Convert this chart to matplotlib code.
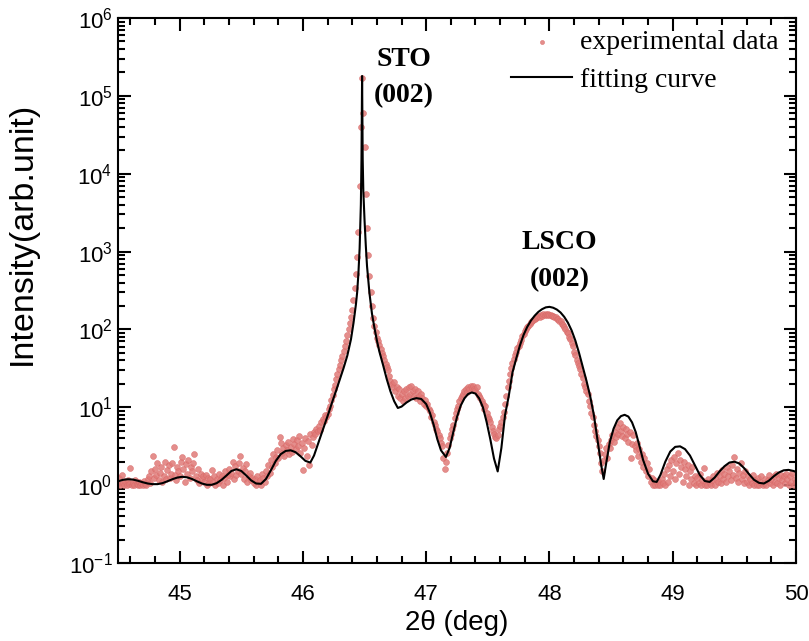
#!/usr/bin/env python3
"""XRD theta-2theta scan of an LSCO film on STO(001): measured points and fit."""
import matplotlib
matplotlib.use("Agg")
import matplotlib.pyplot as plt
import numpy as np
from matplotlib.ticker import LogLocator, MultipleLocator, NullFormatter

# measured scan, 2theta from 44.50 to 50.00 deg in 0.01 deg steps (one row = 0.1 deg)
SCAN_START = 44.50
SCAN_END = 50.00
SCAN_Y = [
    1.02, 1.25, 1.0, 1.35, 1.05, 1.0, 1.12, 1.0, 1.18, 1.04,        # 44.5
    1.65, 1.0, 1.08, 1.0, 1.15, 1.02, 1.0, 1.1, 1.0, 1.06,          # 44.6
    1.0, 1.12, 1.04, 1.0, 1.2, 1.3, 1.08, 1.5, 2.4, 1.25,           # 44.7
    1.6, 1.35, 1.9, 1.15, 1.45, 1.7, 1.1, 1.3, 2.0, 1.2,            # 44.8
    1.55, 1.8, 1.25, 1.4, 1.95, 3.1, 1.35, 1.15, 1.7, 1.5,          # 44.9
    1.3, 2.0, 2.3, 1.6, 1.1, 1.85, 1.4, 2.1, 1.25, 1.7,             # 45.0
    1.5, 1.9, 2.5, 1.3, 1.15, 1.6, 1.05, 1.4, 1.2, 1.3,             # 45.1
    1.1, 1.35, 1.0, 1.25, 1.05, 1.2, 1.55, 1.1, 1.3, 1.0,           # 45.2
    1.2, 1.05, 1.4, 1.15, 1.3, 1.0, 1.25, 1.5, 1.1, 1.35,           # 45.3
    1.6, 1.3, 1.45, 2.0, 1.2, 1.75, 1.35, 1.5, 1.9, 2.4,            # 45.4
    1.4, 1.65, 1.2, 1.5, 1.85, 1.1, 1.3, 1.45, 1.15, 1.25,          # 45.5
    1.05, 1.2, 1.0, 1.3, 1.1, 1.15, 1.0, 1.4, 1.25, 1.1,            # 45.6
    1.5, 1.3, 1.8, 1.45, 2.1, 1.7, 2.5, 1.9, 2.3, 2.8,              # 45.7
    2.2, 4.2, 3.5, 2.6, 3.0, 2.4, 3.3, 2.8, 3.6, 2.5,               # 45.8
    3.1, 2.7, 3.9, 3.4, 2.9, 3.8, 3.2, 4.3, 2.6, 3.5,               # 45.9
    1.55, 3.0, 4.0, 2.4, 3.7, 1.8, 4.6, 3.3, 4.2, 4.8,              # 46.0
    4.5, 5.3, 5.0, 5.8, 5.1, 6.4, 7.0, 6.6, 8.0, 7.5,               # 46.1
    8.2, 9.4, 10.5, 12.5, 14.5, 17, 19.5, 23, 27, 31,               # 46.2
    35, 40, 46, 53, 62, 72, 84, 100, 120, 145,                      # 46.3
    180, 240, 340, 520, 850, 1800, 7000, 40000, 170000, 60000,      # 46.4
    22000, 5500, 2000, 900, 480, 300, 200, 140, 110, 92,            # 46.5
    78, 70, 64, 56, 50, 45, 40, 36, 33, 30,                         # 46.6
    25, 22, 20, 18, 21, 16, 18, 14, 17, 13,                         # 46.7
    15, 12, 16, 13, 17, 14, 18, 15, 19, 16,                         # 46.8
    14, 17, 13, 16, 14, 12, 15, 13, 11, 12.5,                       # 46.9
    10.5, 11, 9.5, 9, 7.5, 8, 6.5, 6, 5.2, 5,                       # 47.0
    4.4, 4.0, 3.5, 3.2, 2.2, 1.6, 2.0, 2.6, 3.3, 4.0,               # 47.1
    4.6, 5.3, 6.0, 7.2, 8.5, 9.5, 10.5, 12, 13, 14,                 # 47.2
    15, 16, 17, 15.5, 18, 17, 19, 17.5, 18.5, 17,                   # 47.3
    16.5, 18, 15, 14, 13, 12, 11, 9.5, 10.5, 8.5,                   # 47.4
    7.5, 7.0, 6.5, 5.5, 5.0, 4.5, 4.2, 4.0, 4.4, 5.2,               # 47.5
    5.8, 6.5, 7.5, 8.8, 11, 14, 18, 22, 27, 32,                     # 47.6
    37, 42, 47, 52, 57, 62, 67, 74, 82, 88,                         # 47.7
    95, 101, 107, 112, 118, 124, 129, 134, 138, 141,                # 47.8
    144, 150, 146, 154, 150, 158, 152, 160, 154, 157,               # 47.9
    152, 155, 148, 150, 143, 144, 136, 137, 128, 127,               # 48.0
    119, 115, 106, 102, 93, 89, 80, 75, 66, 61,                     # 48.1
    52, 47, 41, 37, 34, 31, 27, 24, 20, 18,                         # 48.2
    16, 15, 12, 10.5, 8.5, 7.5, 6, 5, 4.3, 3.8,                     # 48.3
    3.2, 2.6, 1.9, 1.5, 2.1, 2.5, 3.0, 2.2, 3.4, 3.0,               # 48.4
    3.8, 4.4, 3.6, 4.8, 4.1, 5.5, 4.6, 6.2, 5.0, 4.3,               # 48.5
    5.6, 4.0, 5.3, 4.5, 3.6, 4.8, 2.2, 3.4, 4.4, 3.2,               # 48.6
    2.8, 3.5, 2.4, 2.9, 2.0, 2.5, 1.7, 2.2, 1.5, 1.9,               # 48.7
    1.3, 1.6, 1.1, 1.25, 1.0, 1.15, 1.0, 1.05, 1.0, 1.1,            # 48.8
    1.0, 1.2, 1.05, 1.4, 1.0, 1.6, 1.1, 1.8, 1.3, 2.1,              # 48.9
    1.5, 2.3, 1.2, 1.9, 2.6, 1.4, 2.1, 1.7, 1.1, 2.0,               # 49.0
    1.6, 1.3, 1.8, 1.0, 1.5, 1.2, 1.7, 1.05, 1.3, 1.0,              # 49.1
    1.25, 1.05, 1.4, 1.0, 1.15, 1.65, 1.0, 1.1, 1.0, 1.2,           # 49.2
    1.05, 1.0, 1.15, 1.3, 1.0, 1.2, 1.45, 1.1, 1.3, 1.05,           # 49.3
    1.55, 1.2, 1.4, 1.1, 1.7, 1.3, 1.5, 1.15, 1.8, 1.35,            # 49.4
    2.3, 1.25, 1.6, 1.1, 1.45, 1.9, 1.2, 1.35, 1.05, 1.5,           # 49.5
    1.1, 1.3, 1.0, 1.2, 1.05, 1.35, 1.0, 1.15, 1.0, 1.25,           # 49.6
    1.0, 1.1, 1.3, 1.0, 1.05, 1.2, 1.0, 1.15, 1.35, 1.05,           # 49.7
    1.2, 1.0, 1.3, 1.1, 1.4, 1.05, 1.25, 1.0, 1.35, 1.15,           # 49.8
    1.3, 1.05, 1.4, 1.2, 1.0, 1.3, 1.1, 1.45, 1.0, 1.2,             # 49.9
    1.1,                                                            # 50.0
]

# fitted curve
FIT_X = [
    44.50, 44.54, 44.58, 44.62, 44.66, 44.70, 44.74, 44.78, 44.82, 44.86,
    44.90, 44.94, 44.98, 45.02, 45.06, 45.10, 45.14, 45.18, 45.22, 45.26,
    45.30, 45.34, 45.38, 45.42, 45.46, 45.50, 45.54, 45.58, 45.62, 45.66,
    45.70, 45.74, 45.78, 45.82, 45.86, 45.90, 45.94, 45.98, 46.02, 46.06,
    46.09, 46.12, 46.15, 46.18, 46.21, 46.24, 46.27, 46.30, 46.33, 46.36,
    46.39, 46.41, 46.43, 46.44, 46.45, 46.46, 46.47, 46.475, 46.48, 46.485,
    46.49, 46.50, 46.51, 46.52, 46.54, 46.56, 46.58, 46.60, 46.62, 46.65,
    46.68, 46.71, 46.74, 46.77, 46.80, 46.84, 46.88, 46.92, 46.96, 47.00,
    47.03, 47.06, 47.09, 47.12, 47.16, 47.19, 47.22, 47.25, 47.28, 47.31,
    47.34, 47.37, 47.40, 47.43, 47.46, 47.49, 47.52, 47.55, 47.58, 47.61,
    47.64, 47.67, 47.70, 47.73, 47.76, 47.79, 47.82, 47.85, 47.88, 47.91,
    47.94, 47.97, 48.00, 48.03, 48.06, 48.09, 48.12, 48.15, 48.18, 48.21,
    48.24, 48.27, 48.30, 48.33, 48.36, 48.39, 48.42, 48.44, 48.46, 48.49,
    48.52, 48.55, 48.58, 48.61, 48.64, 48.67, 48.70, 48.73, 48.76, 48.80,
    48.84, 48.87, 48.90, 48.94, 48.98, 49.02, 49.06, 49.10, 49.14, 49.18,
    49.22, 49.26, 49.30, 49.34, 49.38, 49.42, 49.46, 49.50, 49.54, 49.58,
    49.62, 49.66, 49.70, 49.74, 49.78, 49.82, 49.86, 49.90, 49.94, 49.98,
    50.00,
]
FIT_Y = [
    1.12, 1.17, 1.19, 1.18, 1.14, 1.09, 1.05, 1.03, 1.03, 1.06,
    1.12, 1.19, 1.25, 1.28, 1.26, 1.2, 1.12, 1.05, 1.01, 1.01,
    1.06, 1.17, 1.33, 1.52, 1.6, 1.52, 1.33, 1.15, 1.05, 1.04,
    1.2, 1.55, 2.05, 2.5, 2.75, 2.8, 2.65, 2.35, 2.05, 1.95,
    2.4, 3.3, 4.5, 6.2, 8.6, 12, 16.5, 23, 32, 46,
    75, 120, 210, 300, 520, 1100, 4000, 15000, 180000, 15000,
    6000, 2500, 1200, 650, 290, 160, 105, 72, 52, 35,
    23, 16, 12, 9.8, 10.2, 11.5, 12.6, 13.1, 12.8, 11,
    8.5, 6, 3.9, 2.8, 2.3, 3.0, 4.8, 7.5, 10.5, 13,
    14.8, 15.5, 15, 13, 10, 6.5, 3.9, 2.2, 1.5, 3.0,
    8, 14, 28, 42, 62, 85, 108, 130, 150, 168,
    182, 192, 195, 190, 180, 165, 145, 122, 97, 72,
    50, 33, 22, 14, 8, 3.8, 1.8, 1.2, 1.9, 3.6,
    5.3, 6.8, 7.7, 8, 7.6, 6.4, 4.8, 3.2, 2.1, 1.4,
    1.12, 1.1, 1.35, 2.0, 2.7, 3.1, 3.15, 2.9, 2.4, 1.8,
    1.35, 1.13, 1.1, 1.25, 1.5, 1.75, 1.95, 2.0, 1.9, 1.65,
    1.38, 1.17, 1.07, 1.05, 1.14, 1.3, 1.45, 1.55, 1.57, 1.52,
    1.48,
]

# peak labels: (text, 2theta, intensity)
PEAK_LABELS = [
    ("STO", 46.82, 10 ** 5.47),
    ("(002)", 46.82, 10 ** 5.00),
    ("LSCO", 48.08, 10 ** 3.12),
    ("(002)", 48.08, 10 ** 2.64),
]

DOT_COLOUR = "#e07a78"
SANS = ["Liberation Sans", "DejaVu Sans"]
SERIF = ["Liberation Serif", "DejaVu Serif"]


def render():
    plt.rcParams.update({
        "font.family": SANS,
        "mathtext.fontset": "custom",
        "mathtext.rm": "Liberation Sans",
        "mathtext.it": "Liberation Sans:italic",
        "mathtext.bf": "Liberation Sans:bold",
        "mathtext.default": "regular",
        "axes.unicode_minus": False,
        "axes.linewidth": 1.5,
    })

    scan_x = np.linspace(SCAN_START, SCAN_END, len(SCAN_Y))

    fig = plt.figure(figsize=(8.09, 6.41), dpi=100)
    ax = fig.add_axes([0.1459, 0.1217, 0.8380, 0.8502])

    ax.scatter(scan_x, SCAN_Y, s=18, facecolor=DOT_COLOUR, edgecolor="#d96a68",
               linewidth=0.4, alpha=0.85, zorder=2, label="experimental data")
    ax.plot(FIT_X, FIT_Y, color="black", lw=1.5, zorder=3, label="fitting curve")

    ax.set_yscale("log")
    ax.set_xlim(44.5, 50.0)
    ax.set_ylim(0.1, 1e6)

    ax.xaxis.set_major_locator(MultipleLocator(1))
    ax.xaxis.set_minor_locator(MultipleLocator(0.2))
    ax.yaxis.set_major_locator(LogLocator(base=10, numticks=20))
    ax.yaxis.set_minor_locator(LogLocator(base=10, subs=np.arange(2, 10), numticks=20))
    ax.yaxis.set_minor_formatter(NullFormatter())

    ax.tick_params(which="both", direction="in", top=True, right=True, width=1.5,
                   labelsize=16)
    ax.tick_params(which="major", length=9)
    ax.tick_params(which="minor", length=5)
    ax.tick_params(axis="x", which="major", pad=15)
    ax.tick_params(axis="y", which="major", pad=4)

    ax.set_xlabel("2\u03b8 (deg)", fontsize=20)
    ax.xaxis.set_label_coords(0.5, -0.086)
    ax.set_ylabel("Intensity(arb.unit)", fontsize=24.5)
    ax.yaxis.set_label_coords(-0.118, 0.605)

    for text, x, y in PEAK_LABELS:
        ax.text(x, y, text, ha="center", va="center", fontsize=20,
                fontweight="bold", family=SERIF)

    ax.legend(loc="upper right", bbox_to_anchor=(0.975, 0.978), frameon=False,
              prop={"family": SERIF, "size": 20}, handlelength=2.2,
              handletextpad=0.3, borderpad=0, borderaxespad=0, labelspacing=0.42,
              markerscale=0.7)

    fig.savefig("out.png", dpi=100)
    plt.close(fig)


if __name__ == "__main__":
    render()
